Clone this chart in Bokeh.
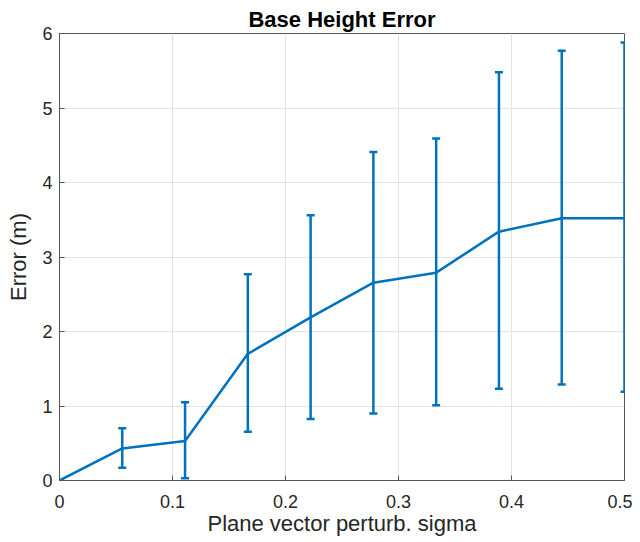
from bokeh.plotting import figure
from bokeh.models import Range1d, Whisker, ColumnDataSource, TeeHead, FixedTicker, Title
from bokeh.embed import file_html
from bokeh.resources import INLINE

# Data
sigma = [i * 0.5 / 9 for i in range(10)]
mean_err = [0.0, 0.43, 0.53, 1.70, 2.19, 2.655, 2.79, 3.34, 3.52, 3.52]
lower_err = [0.0, 0.17, 0.03, 0.655, 0.825, 0.90, 1.01, 1.23, 1.29, 1.19]
upper_err = [0.0, 0.70, 1.05, 2.77, 3.56, 4.41, 4.59, 5.48, 5.77, 5.88]
x_ticks = [0, 0.1, 0.2, 0.3, 0.4, 0.5]
x_tick_labels = ["0", "0.1", "0.2", "0.3", "0.4", "0.5"]
y_ticks = [0, 1, 2, 3, 4, 5, 6]
y_tick_labels = ["0", "1", "2", "3", "4", "5", "6"]

BLUE = "#0072BD"
AX = "#555555"
TXT = "#262626"
FONT = "Liberation Sans"

p = figure(width=632, height=538, output_backend="svg", toolbar_location=None,
           x_range=Range1d(0, 0.5), y_range=Range1d(0, 6),
           min_border_left=59, min_border_right=8, min_border_top=33, min_border_bottom=55)
p.title = Title(text="Base Height Error", align="center", text_font=FONT,
                text_font_size="22px", text_font_style="bold", text_color="#000000",
                offset=0, standoff=4)

src = ColumnDataSource(dict(x=sigma, y=mean_err, lo=lower_err, hi=upper_err))

p.line("x", "y", source=src, line_color=BLUE, line_width=2.5)
w = Whisker(base="x", lower="lo", upper="hi", source=src, line_color=BLUE, line_width=2.5,
            upper_head=TeeHead(size=8, line_color=BLUE, line_width=2.5),
            lower_head=TeeHead(size=8, line_color=BLUE, line_width=2.5))
p.add_layout(w)

for ax, ticks, labels in ((p.xaxis[0], x_ticks, x_tick_labels), (p.yaxis[0], y_ticks, y_tick_labels)):
    ax.ticker = FixedTicker(ticks=ticks)
    ax.major_label_overrides = {t: l for t, l in zip(ticks, labels)}
    ax.minor_tick_line_color = None
    ax.major_tick_in = 5
    ax.major_tick_out = 0
    ax.axis_line_color = AX
    ax.major_tick_line_color = AX
    ax.major_label_text_font = FONT
    ax.major_label_text_font_size = "18px"
    ax.major_label_text_color = TXT
    ax.axis_label_text_font = FONT
    ax.axis_label_text_font_size = "22px"
    ax.axis_label_text_font_style = "normal"
    ax.axis_label_text_color = TXT

p.xaxis.axis_label = "Plane vector perturb. sigma"
p.yaxis.axis_label = "Error (m)"
p.xaxis.major_label_standoff = 14
p.yaxis.major_label_standoff = 7
p.xaxis.axis_label_standoff = 0
p.yaxis.axis_label_standoff = 8

p.outline_line_color = AX
p.outline_line_width = 1
p.grid.grid_line_color = "#e3e3e3"
p.grid.grid_line_width = 1
p.xgrid.ticker = FixedTicker(ticks=x_ticks)
p.ygrid.ticker = FixedTicker(ticks=y_ticks)
p.background_fill_color = "white"
p.border_fill_color = "white"

open("out.html", "w").write(file_html(p, INLINE))
